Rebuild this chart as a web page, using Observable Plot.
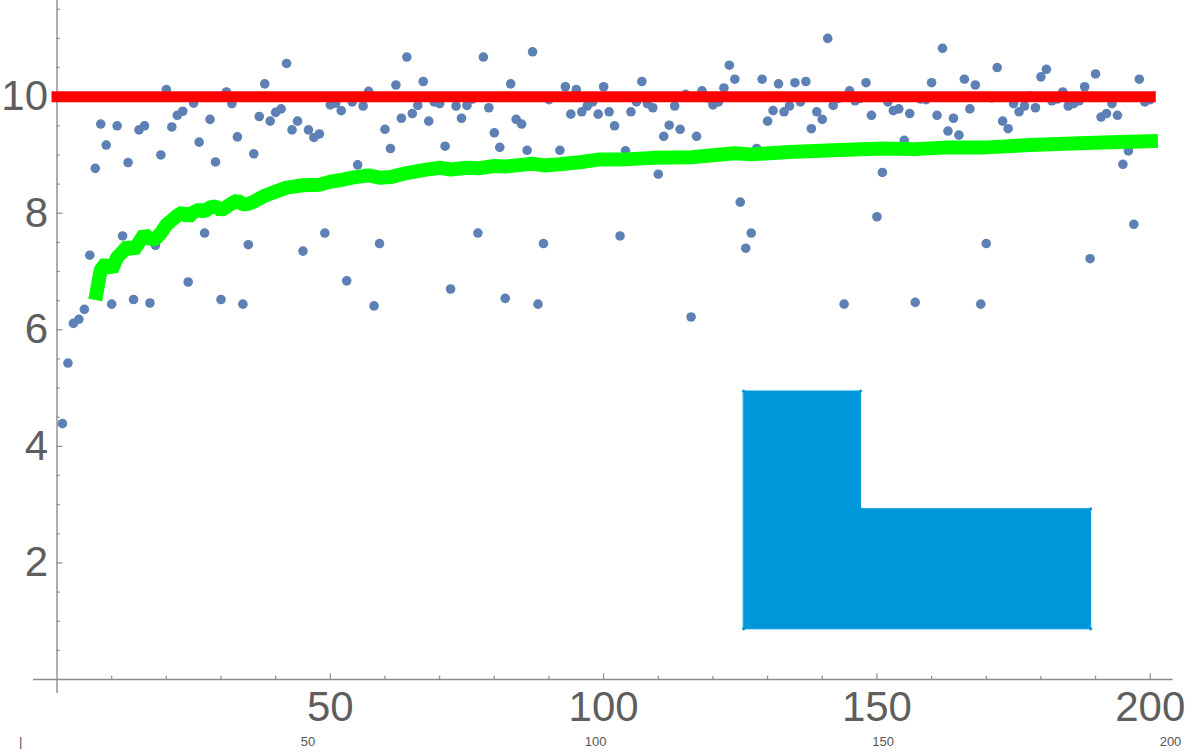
<!DOCTYPE html>
<html><head><meta charset="utf-8">
<script src="https://cdn.jsdelivr.net/npm/d3@7"></script>
<script src="https://cdn.jsdelivr.net/npm/@observablehq/plot@0.6"></script>
<style>
html,body{margin:0;padding:0;background:#fff;}
#chart svg{display:block;}
</style></head><body><div id="chart"></div>
<script>
// scatter samples (index 1..200)
const sampleValues = [
4.39,5.43,6.11,6.18,6.35,7.28,8.77,9.53,9.17,6.44,
9.50,7.61,8.87,6.52,9.43,9.50,6.46,7.45,9.00,10.12,
9.48,9.68,9.75,6.82,9.89,9.22,7.66,9.61,8.88,6.52,
10.08,9.88,9.31,6.44,7.46,9.02,9.66,10.22,9.58,9.73,
9.79,10.57,9.43,9.58,7.35,9.43,9.30,9.36,7.66,9.86,
9.89,9.76,6.84,9.91,8.83,9.84,10.09,6.41,7.48,9.44,
9.11,10.20,9.63,10.68,9.71,9.85,10.26,9.58,9.91,9.88,
9.15,6.70,9.84,9.63,9.85,9.96,7.66,10.68,9.81,9.38,
9.13,6.54,10.22,9.61,9.53,9.08,10.77,6.44,7.48,9.95,
8.85,9.08,10.17,9.70,10.12,9.74,9.84,9.91,9.70,10.17,
9.74,9.50,7.61,9.07,9.74,9.91,10.26,9.88,9.81,8.67,
9.32,9.51,9.84,9.44,10.04,6.22,9.32,10.10,9.98,9.86,
9.91,10.15,10.54,10.30,8.19,7.40,7.66,9.11,10.30,9.58,
9.76,10.22,9.74,9.84,10.24,9.91,10.26,9.45,9.74,9.61,
11.00,9.85,9.97,6.44,10.10,9.93,9.97,10.24,9.68,7.94,
8.70,9.91,9.76,9.79,9.25,9.71,6.47,9.96,9.95,10.24,
9.68,10.83,9.41,9.63,9.34,10.30,9.79,10.20,6.44,7.48,
9.98,10.50,9.58,9.45,9.88,9.74,9.84,10.01,9.81,10.34,
10.47,9.93,9.96,10.08,9.84,9.88,9.93,10.17,7.22,10.39,
9.65,9.71,9.88,9.68,8.84,9.07,7.81,10.30,9.91,9.95
];

// green running curve
const runningX = [7,8,9,10,11,12,13,14,15,16,17,18,19,20,21,22,23,24,25,26,27,28,29,30,31,32,33,34,35,36,37,38,40,42,45,48,50,52,54,57,59,61,64,67,70,72,75,77,80,82,85,87,89,92,96,99,103,109,116,124,127,134,142,151,157,163,170,178,187,193,201.4];
const runningY = [6.51,7.03,7.15,7.02,7.24,7.34,7.44,7.36,7.50,7.64,7.56,7.56,7.66,7.80,7.88,7.96,8.02,7.93,8.02,8.06,8.03,8.10,8.12,8.05,8.11,8.17,8.22,8.15,8.16,8.20,8.25,8.30,8.37,8.44,8.48,8.49,8.54,8.57,8.61,8.65,8.61,8.62,8.69,8.74,8.78,8.75,8.78,8.77,8.81,8.80,8.83,8.85,8.82,8.84,8.88,8.92,8.92,8.95,8.96,9.03,9.01,9.05,9.08,9.11,9.10,9.13,9.13,9.17,9.20,9.22,9.24];

// red reference line
const refX = [0, 200];
const refLevel = 10;

// blue L-shaped region
const regionX = [125.6, 147, 147, 189.1, 189.1, 125.6];
const regionY = [4.95, 4.95, 2.93, 2.93, 0.87, 0.87];

// ticks
const xMajorTicks = [50, 100, 150, 200];
const xMinorTicks = [10,20,30,40,60,70,80,90,110,120,130,140,160,170,180,190];
const yMajorTicks = [2, 4, 6, 8, 10];
const yMinorTicks = [0.5,1,1.5,2.5,3,3.5,4.5,5,5.5,6.5,7,7.5,8.5,9,9.5,10.5,11,11.5];
const lowerTicks = [0, 50, 100, 150, 200];

const points = sampleValues.map((v, i) => ({x: i + 1, y: v}));
const running = runningX.map((x, i) => ({x, y: runningY[i]}));
const region = regionX.map((x, i) => ({x, y: regionY[i]}));
const ref = refX.map(x => ({x, y: refLevel}));

const font = "'Liberation Sans', Arial, sans-serif";
const axisColor = "#8c8c8c";
const labelColor = "#5e5e5e";

const main = Plot.plot({
  width: 1191, height: 728,
  marginLeft: 33, marginRight: 18.3, marginTop: 0, marginBottom: 35,
  style: {background: "#fff", fontFamily: font, overflow: "visible"},
  x: {domain: [-4.3, 204.2], axis: null},
  y: {domain: [-0.24, 11.65], axis: null},
  marks: [
    Plot.ruleY([0], {stroke: axisColor, strokeWidth: 1.4}),
    Plot.ruleX([0], {stroke: axisColor, strokeWidth: 1.4}),
    Plot.ruleX(xMajorTicks, {x: d => d, y1: 0, y2: 0.1, stroke: axisColor, strokeWidth: 1.2}),
    Plot.ruleX(xMinorTicks, {x: d => d, y1: 0, y2: 0.055, stroke: axisColor, strokeWidth: 1.2}),
    Plot.ruleY(yMajorTicks, {y: d => d, x1: 0, x2: 1.1, stroke: axisColor, strokeWidth: 1.2}),
    Plot.ruleY(yMinorTicks, {y: d => d, x1: 0, x2: 0.6, stroke: axisColor, strokeWidth: 1.2}),
    Plot.text(xMajorTicks, {x: d => d, y: 0, text: d => String(d), dy: 28, fontSize: 42, fill: labelColor, fontFamily: font}),
    Plot.text(yMajorTicks, {x: 0, y: d => d, text: d => String(d), textAnchor: "end", dx: -9, fontSize: 42, fill: labelColor, fontFamily: font}),
    Plot.dot(points, {x: "x", y: "y", r: 4.8, fill: "#5e81b5", stroke: "none"}),
    Plot.line(running, {x: "x", y: "y", stroke: "#00ff00", strokeWidth: 14, strokeLinecap: "butt", strokeLinejoin: "miter"}),
    Plot.line(ref, {x: "x", y: "y", stroke: "#ff0000", strokeWidth: 11, strokeLinecap: "square"}),
    Plot.line(region, {x: "x", y: "y", curve: "linear-closed", fill: "#0097da", stroke: "#0097da", strokeWidth: 1}),
    Plot.dot(region, {x: "x", y: "y", r: 1.6, fill: "#0097da"})
  ]
});

const lower = Plot.plot({
  width: 1191, height: 24,
  marginLeft: 20.1, marginRight: 21, marginTop: 0, marginBottom: 0,
  style: {background: "#fff", fontFamily: font},
  x: {domain: [0, 200], axis: null},
  y: {axis: null},
  marks: [
    Plot.text(lowerTicks, {x: d => d, text: d => d === 0 ? "|" : String(d), fontSize: 13, fill: "#555", dy: 1.5, fontFamily: font})
  ]
});

const chart = document.getElementById("chart");
chart.appendChild(main);
chart.appendChild(lower);
</script>
</body></html>
